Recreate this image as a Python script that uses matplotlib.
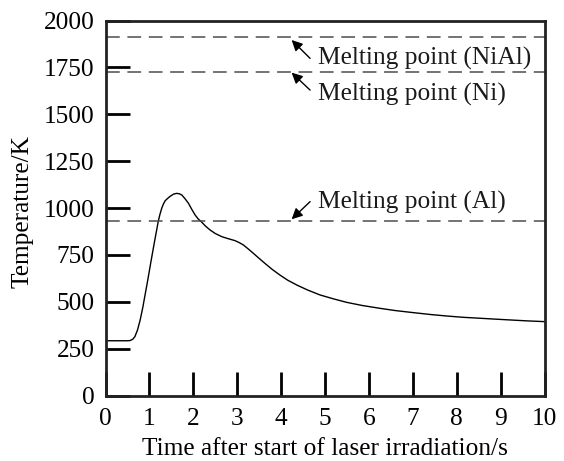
import matplotlib
matplotlib.use("Agg")
import matplotlib.pyplot as plt

# ---- data ----
time_s = [0.0, 0.5, 0.56, 0.62, 0.67, 0.73, 0.79, 0.85, 0.90, 0.96, 1.01, 1.07,
          1.13, 1.17, 1.20, 1.24, 1.28, 1.32, 1.36, 1.42, 1.47, 1.55, 1.62, 1.68,
          1.74, 1.81, 1.89, 1.96, 2.04, 2.11, 2.19, 2.28, 2.38, 2.50, 2.65, 2.80,
          2.95, 3.05, 3.14, 3.25, 3.37, 3.50, 3.63, 3.80, 3.97, 4.15, 4.36, 4.60,
          4.89, 5.20, 5.49, 5.85, 6.25, 6.60, 7.01, 7.40, 7.77, 8.15, 8.53, 8.90,
          9.21, 9.60, 10.0]
temp_K = [292, 292, 293, 300, 314, 350, 403, 470, 535, 612, 680, 760,
          838, 888, 927, 966, 998, 1022, 1039, 1052, 1062, 1074, 1078, 1076,
          1069, 1050, 1025, 995, 963, 942, 925, 903, 883, 864, 847, 836,
          826, 815, 803, 782, 758, 731, 705, 672, 643, 615, 589, 563,
          536, 515, 497, 480, 465, 453, 442, 432, 424, 417, 412, 407,
          403, 398, 394]

melt_labels = ["Melting point (NiAl)", "Melting point (Ni)", "Melting point (Al)"]
melt_temps = [1911, 1728, 933]
arrow_tips = [(4.24, 1896), (4.24, 1722), (4.24, 940)]
arrow_tails = [(4.66, 1798), (4.66, 1629), (4.66, 1034)]
text_pos = [(4.83, 1763), (4.83, 1571), (4.83, 998)]

x_ticks = list(range(0, 11))
y_ticks = [0, 250, 500, 750, 1000, 1250, 1500, 1750, 2000]

plt.rcParams['font.family'] = ['Liberation Serif', 'DejaVu Serif']
FS = 18.3

fig = plt.figure(figsize=(5.64, 4.61), dpi=100)
ax = fig.add_axes([105.5 / 564, 1 - 395.5 / 461, 439 / 564, 375 / 461])

ax.plot(time_s, temp_K, color='black', lw=1.0)

for T in melt_temps:
    ax.axhline(T, color='#4d4d4d', lw=1.1, dashes=(9, 5))

for lab, tip, tail, tp in zip(melt_labels, arrow_tips, arrow_tails, text_pos):
    ax.annotate('', xy=tip, xytext=tail,
                arrowprops=dict(arrowstyle='-|>', color='black', lw=1.0,
                                mutation_scale=16, shrinkA=0, shrinkB=0))
    ax.text(tp[0], tp[1], lab, fontsize=FS, ha='left', va='baseline', color='#1a1a1a')

ax.set_xlim(0, 10)
ax.set_ylim(0, 2000)
ax.set_xticks(x_ticks)
ax.set_yticks(y_ticks)
ax.tick_params(axis='both', direction='in', length=17, width=2, labelsize=FS,
               pad=8, colors='black')
ax.tick_params(axis='x', pad=9)
for s in ax.spines.values():
    s.set_linewidth(2)
    s.set_color('#222222')

ax.set_xlabel('Time after start of laser irradiation/s', fontsize=FS, labelpad=6)
ax.set_ylabel('Temperature/K', fontsize=FS)
ax.yaxis.set_label_coords(-0.19, 0.49)
ax.yaxis.label.set_va('center')

fig.savefig('out.png', dpi=100)
